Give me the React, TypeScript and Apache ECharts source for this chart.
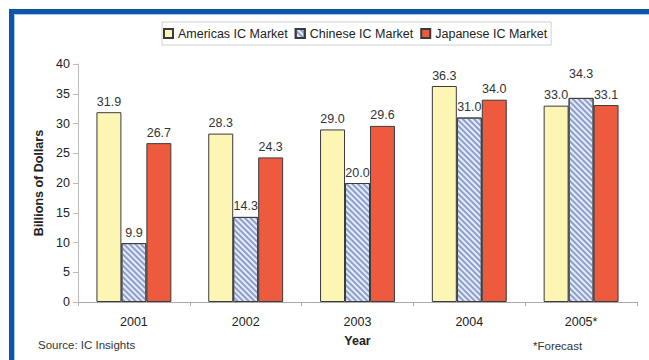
import React, { useEffect, useRef } from "react";
import * as echarts from "echarts";

const years = ["2001", "2002", "2003", "2004", "2005*"];
const americas = [31.9, 28.3, 29.0, 36.3, 33.0];
const chinese = [9.9, 14.3, 20.0, 31.0, 34.3];
const japanese = [26.7, 24.3, 29.6, 34.0, 33.1];
const yTicks = { min: 0, max: 40, interval: 5 };

const FONT = "'Liberation Sans', Arial, sans-serif";

export default function App() {
  const ref = useRef<HTMLDivElement>(null);
  useEffect(() => {
    if (!ref.current) return;
    const chart = echarts.init(ref.current, undefined, { renderer: "svg" });
    const label = {
      show: true,
      position: "top",
      distance: 4,
      fontSize: 12.5,
      color: "#333",
      fontFamily: FONT,
      formatter: (p: any) => Number(p.value).toFixed(1),
    };
    const border = { borderColor: "#3a3a3a", borderWidth: 1 };
    const chineseData = chinese.map((v, i) =>
      i === chinese.length - 1 ? { value: v, label: { distance: 17 } } : v
    );
    chart.setOption({
      animation: false,
      backgroundColor: "#fff",
      textStyle: { fontFamily: FONT },
      graphic: [
        {
          type: "rect",
          shape: { x: 11.5, y: 11.5, width: 700, height: 400 },
          style: { fill: "none", stroke: "#0b56a6", lineWidth: 5 },
          silent: true,
        },
        {
          type: "rect",
          shape: { x: 14.5, y: 14.5, width: 700, height: 400 },
          style: { fill: "none", stroke: "#a9c3e4", lineWidth: 1 },
          silent: true,
        },
        {
          type: "text",
          left: 38,
          top: 339,
          style: { text: "Source: IC Insights", fontSize: 11.5, fill: "#333", fontFamily: FONT },
        },
        {
          type: "text",
          left: 533,
          top: 340,
          style: { text: "*Forecast", fontSize: 11.5, fill: "#333", fontFamily: FONT },
        },
      ],
      legend: {
        left: 162,
        top: 22,
        padding: [5, 4, 5, 1],
        borderColor: "#d0d0d0",
        borderWidth: 1,
        itemWidth: 9,
        itemHeight: 9,
        itemGap: 7,
        icon: "rect",
        textStyle: { fontSize: 12.5, color: "#222", fontFamily: FONT },
        data: ["Americas IC Market", "Chinese IC Market", "Japanese IC Market"],
      },
      grid: { left: 78, right: 12, top: 64, bottom: 58 },
      xAxis: {
        type: "category",
        data: years,
        name: "Year",
        nameLocation: "middle",
        nameGap: 32,
        nameTextStyle: { fontWeight: "bold", fontSize: 12.5, color: "#222", fontFamily: FONT },
        axisLine: { lineStyle: { color: "#aaa" } },
        axisTick: { show: true, length: 4, lineStyle: { color: "#aaa" } },
        axisLabel: { fontSize: 12.5, color: "#222", margin: 13, fontFamily: FONT },
      },
      yAxis: {
        type: "value",
        min: yTicks.min,
        max: yTicks.max,
        interval: yTicks.interval,
        name: "Billions of Dollars",
        nameLocation: "middle",
        nameGap: 29,
        nameTextStyle: { fontWeight: "bold", fontSize: 12.5, color: "#222", fontFamily: FONT },
        axisLine: { show: true, lineStyle: { color: "#bbb" } },
        axisTick: { show: true, length: 5, lineStyle: { color: "#bbb" } },
        axisLabel: { fontSize: 12.5, color: "#222", margin: 8, fontFamily: FONT },
        splitLine: { show: false },
      },
      series: [
        {
          name: "Americas IC Market",
          type: "bar",
          data: americas,
          barGap: "0%",
          barCategoryGap: "33%",
          itemStyle: { color: "#fdf5b3", ...border },
          label,
        },
        {
          name: "Chinese IC Market",
          type: "bar",
          data: chineseData,
          itemStyle: {
            color: "#e6ecf7",
            ...border,
            decal: {
              symbol: "rect",
              symbolSize: 1,
              color: "#8d9ecd",
              dashArrayX: [1, 0],
              dashArrayY: [1.2, 1.6],
              rotation: Math.PI / 4,
            },
          },
          label,
        },
        {
          name: "Japanese IC Market",
          type: "bar",
          data: japanese,
          itemStyle: { color: "#ee5a3d", ...border },
          label,
        },
      ],
    });
    return () => chart.dispose();
  }, []);
  return (
    <div style={{ position: "fixed", left: 0, top: 0, width: 649, height: 360, background: "#fff" }}>
      <div ref={ref} style={{ width: 649, height: 360 }} />
    </div>
  );
}
